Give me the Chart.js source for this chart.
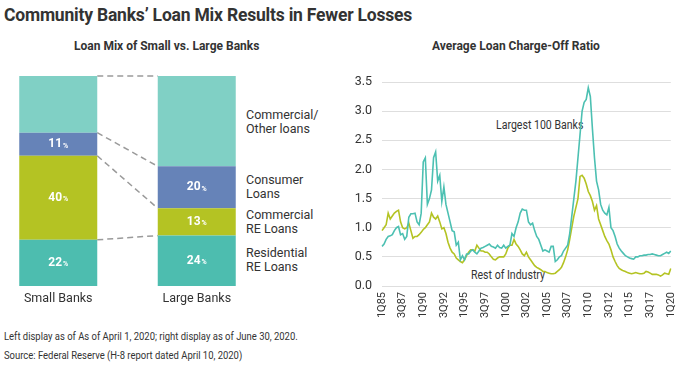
<!DOCTYPE html>
<html>
<head>
<meta charset="utf-8">
<script src="https://cdn.jsdelivr.net/npm/chart.js@4/dist/chart.umd.min.js"></script>
<style>
  html, body { margin: 0; padding: 0; background: #fff; }
  body { width: 690px; height: 371px; position: relative; overflow: hidden; font-family: "Roboto", sans-serif; color: #333; }
  .abs { position: absolute; white-space: nowrap; }
  #title { left: 4px; top: 5px; font-weight: 700; font-size: 17.5px; color: #333; letter-spacing: -0.2px; }
  .sub { top: 39px; font-weight: 700; font-size: 12px; color: #333; }
  .leg { left: 246px; font-size: 12.5px; line-height: 14px; color: #333; }
  .note { left: 4px; font-size: 10.5px; color: #333; transform: scaleX(0.9); transform-origin: 0 0; }
  .ann { font-size: 12px; color: #333; transform: scaleX(0.88); transform-origin: 0 0; }
  #c1 { position: absolute; left: -20px; top: 50px; }
  #c2 { position: absolute; left: 330px; top: 60px; }
</style>
</head>
<body>
<div id="title" class="abs">Community Banks’ Loan Mix Results in Fewer Losses</div>
<div class="abs sub" style="left:74px;">Loan Mix of Small vs. Large Banks</div>
<div class="abs sub" style="left:432px;">Average Loan Charge-Off Ratio</div>

<div class="abs leg" style="top:108px;">Commercial/<br>Other loans</div>
<div class="abs leg" style="top:173px;">Consumer<br>Loans</div>
<div class="abs leg" style="top:208px;">Commercial<br>RE Loans</div>
<div class="abs leg" style="top:246px;">Residential<br>RE Loans</div>

<div class="abs ann" style="left:496px; top:118px;">Largest 100 Banks</div>
<div class="abs ann" style="left:471px; top:268px;">Rest of Industry</div>

<div class="abs note" style="top:330px;">Left display as of As of April 1, 2020; right display as of June 30, 2020.</div>
<div class="abs note" style="top:349px;">Source: Federal Reserve (H-8 report dated April 10, 2020)</div>

<canvas id="c1" width="300" height="262"></canvas>
<canvas id="c2" width="360" height="270"></canvas>

<script>
// ---------- Left chart data ----------
const bankGroups = ['Small Banks', 'Large Banks'];
const residentialRE = [22, 24];
const commercialRE = [40, 13];
const consumerLoans = [11, 20];
const commercialOther = [27, 43];

// ---------- Right chart data (quarterly, 1Q85 .. 1Q20) ----------
const quarterLabels = [];
for (let y = 1985; y <= 2020; y++) {
  for (let q = 1; q <= 4; q++) {
    if (y === 2020 && q > 1) break;
    quarterLabels.push(q + 'Q' + String(y).slice(2));
  }
}
const largest100 = [
  0.68,0.72,0.80,0.85,0.86,0.88,0.95,1.00,1.02,0.88,
  0.90,0.80,0.85,1.18,1.24,1.24,1.25,1.10,1.05,1.25,
  2.13,2.20,1.40,1.50,1.65,2.20,2.30,1.80,1.90,1.45,
  1.70,1.40,1.25,1.10,0.95,0.93,0.70,0.75,0.45,0.52,
  0.45,0.55,0.55,0.60,0.62,0.58,0.55,0.60,0.65,0.66,
  0.68,0.70,0.72,0.68,0.67,0.65,0.70,0.66,0.65,0.70,
  0.65,0.68,0.70,0.90,0.85,1.00,1.10,1.25,1.32,1.30,
  1.30,1.10,1.05,1.08,0.95,0.85,0.80,0.70,0.60,0.62,
  0.60,0.58,0.68,0.68,0.42,0.45,0.50,0.52,0.60,0.65,
  0.70,0.90,1.20,1.50,1.80,2.20,2.60,3.00,3.15,3.20,
  3.40,3.25,2.70,2.20,1.80,1.65,1.40,1.30,1.25,1.22,
  1.35,1.00,0.95,0.85,0.72,0.65,0.60,0.56,0.52,0.50,
  0.48,0.47,0.46,0.50,0.50,0.52,0.52,0.53,0.53,0.54,
  0.54,0.55,0.54,0.53,0.52,0.52,0.54,0.56,0.58,0.56,
  0.60
];
const restOfIndustry = [
  0.95,1.00,1.05,1.25,1.15,1.20,1.25,1.28,1.30,1.10,
  1.00,0.98,1.00,1.08,0.95,0.82,0.85,0.85,0.88,0.92,
  0.97,1.00,1.05,1.10,1.25,1.18,1.15,1.20,1.10,0.98,
  1.00,0.90,0.75,0.65,0.58,0.55,0.48,0.45,0.42,0.40,
  0.45,0.52,0.58,0.62,0.62,0.60,0.70,0.65,0.60,0.60,
  0.58,0.58,0.55,0.50,0.46,0.45,0.48,0.50,0.50,0.50,
  0.55,0.65,0.70,0.70,0.80,0.72,0.68,0.62,0.55,0.52,
  0.58,0.50,0.45,0.40,0.35,0.32,0.30,0.28,0.25,0.25,
  0.23,0.22,0.21,0.21,0.22,0.25,0.28,0.32,0.40,0.50,
  0.62,0.80,1.00,1.20,1.35,1.50,1.88,1.90,1.85,1.75,
  1.62,1.55,1.45,1.30,1.38,1.15,1.05,0.95,0.85,0.78,
  0.72,0.62,0.50,0.42,0.35,0.30,0.28,0.26,0.25,0.23,
  0.22,0.21,0.22,0.23,0.22,0.21,0.21,0.22,0.25,0.24,
  0.22,0.20,0.20,0.20,0.19,0.17,0.19,0.22,0.21,0.20,
  0.30
];
const yTicks = [0, 0.5, 1.0, 1.5, 2.0, 2.5, 3.0, 3.5];

// ---------- colours ----------
const COL_RES = '#4dbdaf';
const COL_CRE = '#b4c323';
const COL_CONS = '#6683b8';
const COL_OTHER = '#80d0c5';
const COL_LARGE = '#4cc0b2';
const COL_REST = '#b4c323';

// ---------- Left chart plugins ----------
const connectorPlugin = {
  id: 'connectors',
  beforeDatasetsDraw(chart) {
    const ctx = chart.ctx;
    ctx.save();
    ctx.strokeStyle = '#9a9a9a';
    ctx.lineWidth = 1.5;
    ctx.setLineDash([6, 4]);
    chart.data.datasets.forEach((ds, i) => {
      const meta = chart.getDatasetMeta(i);
      const a = meta.data[0], b = meta.data[1];
      if (!a || !b) return;
      ctx.beginPath();
      ctx.moveTo(a.x + a.width / 2, a.y);
      ctx.lineTo(b.x - b.width / 2, b.y);
      ctx.stroke();
    });
    ctx.restore();
  }
};
const valueLabelPlugin = {
  id: 'valueLabels',
  afterDatasetsDraw(chart) {
    const ctx = chart.ctx;
    ctx.save();
    ctx.fillStyle = '#ffffff';
    ctx.textBaseline = 'middle';
    chart.data.datasets.forEach((ds, i) => {
      if (!ds.showValue) return;
      const meta = chart.getDatasetMeta(i);
      meta.data.forEach((el, j) => {
        const num = String(ds.data[j]);
        const cy = (el.y + el.base) / 2;
        ctx.font = 'bold 12px Roboto, sans-serif';
        const w1 = ctx.measureText(num).width;
        ctx.font = 'bold 7px Roboto, sans-serif';
        const w2 = ctx.measureText('%').width;
        const x0 = el.x - (w1 + w2 + 1) / 2;
        ctx.font = 'bold 12px Roboto, sans-serif';
        ctx.textAlign = 'left';
        ctx.fillText(num, x0, cy);
        ctx.font = 'bold 7px Roboto, sans-serif';
        ctx.fillText('%', x0 + w1 + 1, cy + 1.5);
      });
    });
    ctx.restore();
  }
};

new Chart(document.getElementById('c1'), {
  type: 'bar',
  data: {
    labels: bankGroups,
    datasets: [
      { label: 'Residential RE Loans', data: residentialRE, backgroundColor: COL_RES, showValue: true },
      { label: 'Commercial RE Loans', data: commercialRE, backgroundColor: COL_CRE, showValue: true },
      { label: 'Consumer Loans', data: consumerLoans, backgroundColor: COL_CONS, showValue: true },
      { label: 'Commercial/Other loans', data: commercialOther, backgroundColor: COL_OTHER, showValue: false }
    ]
  },
  options: {
    responsive: false,
    animation: false,
    events: [],
    layout: { padding: { left: 9, right: 14, top: 26, bottom: 2 } },
    datasets: { bar: { barPercentage: 1, categoryPercentage: 0.5632, borderWidth: 0 } },
    plugins: { legend: { display: false }, tooltip: { enabled: false } },
    scales: {
      x: {
        stacked: true,
        grid: { display: false, drawTicks: false },
        border: { display: false },
        ticks: { color: '#333', font: { family: 'Roboto', size: 12.5 }, padding: 5 },
        afterFit: s => { s.height = 24; }
      },
      y: {
        stacked: true, min: 0, max: 100, display: false
      }
    }
  },
  plugins: [connectorPlugin, valueLabelPlugin]
});

// ---------- Right chart ----------
new Chart(document.getElementById('c2'), {
  type: 'line',
  data: {
    labels: quarterLabels,
    datasets: [
      { label: 'Largest 100 Banks', data: largest100, borderColor: COL_LARGE, borderWidth: 1.6, pointRadius: 0, tension: 0, fill: false },
      { label: 'Rest of Industry', data: restOfIndustry, borderColor: COL_REST, borderWidth: 1.6, pointRadius: 0, tension: 0, fill: false }
    ]
  },
  options: {
    responsive: false,
    animation: false,
    events: [],
    layout: { padding: { left: 0, right: 10, top: 22, bottom: 4 } },
    plugins: { legend: { display: false }, tooltip: { enabled: false } },
    scales: {
      x: {
        grid: { display: false, drawTicks: false },
        border: { display: false },
        ticks: {
          autoSkip: false, minRotation: 90, maxRotation: 90, padding: 6,
          color: '#333', font: { family: 'Roboto', size: 11 },
          callback: function (v, i) { return i % 10 === 0 ? this.getLabelForValue(v) : ''; }
        },
        afterFit: s => { s.height = 40; }
      },
      y: {
        min: 0, max: 3.5,
        afterBuildTicks: s => { s.ticks = yTicks.map(v => ({ value: v })); },
        grid: { color: '#dedede', lineWidth: 1, drawTicks: false },
        border: { display: false },
        ticks: { color: '#333', font: { family: 'Roboto', size: 12.5 }, padding: 10, callback: v => Number(v).toFixed(1) },
        afterFit: s => { s.width = 52; }
      }
    }
  }
});
</script>
</body>
</html>
